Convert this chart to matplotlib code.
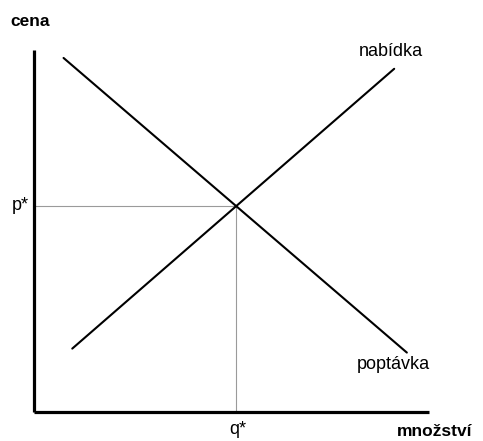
import matplotlib
matplotlib.use("Agg")
import matplotlib.pyplot as plt

# demand / supply curve end points (quantity, price), axis range 0..10
demand_q = [0.76, 9.44]
demand_p = [9.78, 1.63]
supply_q = [0.98, 9.12]
supply_p = [1.74, 9.48]
eq_q = 5.13
eq_p = 5.68

plt.rcParams["font.family"] = ["Liberation Sans", "DejaVu Sans"]

W, H = 483, 441
fig = plt.figure(figsize=(W / 100, H / 100), dpi=100)
fig.patch.set_facecolor("white")


def fx(px):
    return px / W


def fy(py):
    return 1 - py / H


ax = fig.add_axes([fx(33.5), fy(411.5), fx(429) - fx(33.5), fy(50) - fy(411.5)])
ax.set_xlim(0, 10)
ax.set_ylim(0, 10)

# guide lines to the equilibrium
ax.plot([0, eq_q], [eq_p, eq_p], color="#9a9a9a", linewidth=0.8, zorder=1)
ax.plot([eq_q, eq_q], [0, eq_p], color="#9a9a9a", linewidth=0.8, zorder=1)

ax.plot(demand_q, demand_p, color="black", linewidth=1.5, solid_capstyle="round", zorder=2)
ax.plot(supply_q, supply_p, color="black", linewidth=1.5, solid_capstyle="round", zorder=2)

for side in ("top", "right"):
    ax.spines[side].set_visible(False)
for side in ("left", "bottom"):
    ax.spines[side].set_linewidth(2.3)
    ax.spines[side].set_color("black")
    ax.spines[side].set_capstyle("butt")
ax.set_xticks([])
ax.set_yticks([])
ax.patch.set_alpha(0)

fig.text(fx(10), fy(21), "cena", fontsize=12.5, fontweight="bold", va="center", ha="left")
fig.text(fx(397), fy(439), "množství", fontsize=12.5, fontweight="bold", va="bottom", ha="left")
fig.text(fx(29), fy(206), "p*", fontsize=13, va="center", ha="right")
fig.text(fx(238), fy(430), "q*", fontsize=13, va="center", ha="center")
fig.text(fx(359), fy(56), "nabídka", fontsize=13, va="baseline", ha="left")
fig.text(fx(357), fy(369), "poptávka", fontsize=13, va="baseline", ha="left")

fig.savefig("out.png", dpi=100, facecolor="white")
